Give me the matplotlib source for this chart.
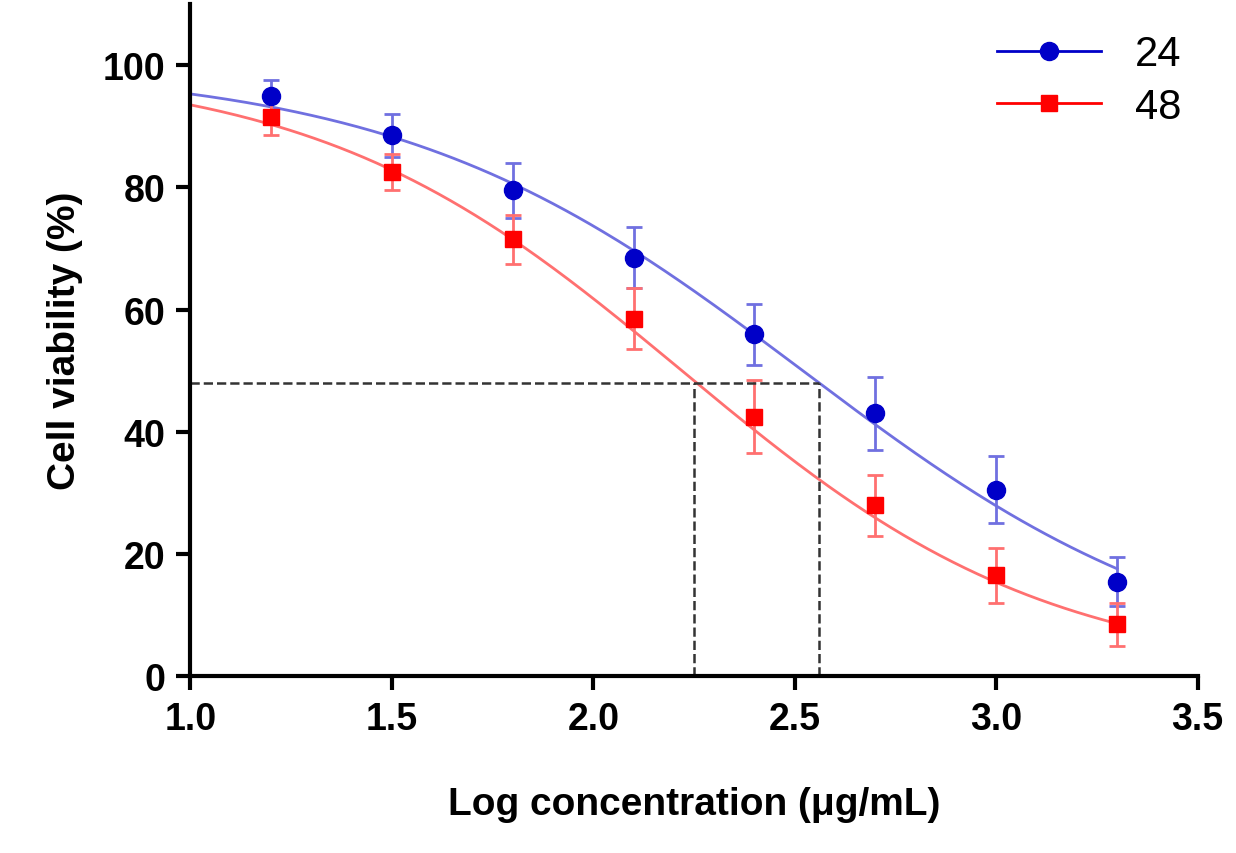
import numpy as np
import matplotlib
matplotlib.use("Agg")
import matplotlib.pyplot as plt

plt.rcParams['font.family'] = ['Liberation Sans', 'DejaVu Sans']

x = [1.2, 1.5, 1.8, 2.1, 2.4, 2.7, 3.0, 3.3]
y24 = [95, 88.5, 79.5, 68.5, 56, 43, 30.5, 15.5]
e24 = [2.5, 3.5, 4.5, 5, 5, 6, 5.5, 4]
y48 = [91.5, 82.5, 71.5, 58.5, 42.5, 28, 16.5, 8.5]
e48 = [3, 3, 4, 5, 6, 5, 4.5, 3.5]
# fitted 4PL parameters (top, bottom, logIC50, hill)
fit24 = [100, 0, 2.52, 0.86]
fit48 = [100, 0, 2.22, 0.95]
ic50 = [2.25, 2.56]
ic50_y = 48

def hill(xx, p):
    t, b, c, h = p
    return b + (t - b) / (1 + 10 ** ((xx - c) * h))

fig = plt.figure(figsize=(12.36, 8.54), dpi=100)
ax = fig.add_axes([0.154, 0.207, 0.815, 0.787])
xx = np.linspace(1.0, 3.3, 300)
blue, bl = '#0000c8', '#7070e0'
red, rl = '#ff0000', '#ff7070'
ax.plot(xx, hill(xx, fit24), color=bl, lw=2)
ax.plot(xx, hill(xx, fit48), color=rl, lw=2)
ax.errorbar(x, y24, yerr=e24, fmt='none', ecolor=bl, elinewidth=2, capsize=6, capthick=2)
ax.errorbar(x, y48, yerr=e48, fmt='none', ecolor=rl, elinewidth=2, capsize=6, capthick=2)
ax.plot(x, y24, 'o', color=blue, ms=13)
ax.plot(x, y48, 's', color=red, ms=12)
ax.plot([], [], '-o', color=blue, mfc=blue, ms=13, lw=2, label='24')
ax.plot([], [], '-s', color=red, ms=12, lw=2, label='48')
ax.plot([1.0, max(ic50)], [ic50_y, ic50_y], '--', color='#333333', lw=1.8)
for v in ic50:
    ax.plot([v, v], [0, ic50_y], '--', color='#333333', lw=1.8)
ax.set_xlim(1.0, 3.5)
ax.set_ylim(0, 110)
ax.set_xticks([1.0, 1.5, 2.0, 2.5, 3.0, 3.5])
ax.set_yticks([0, 20, 40, 60, 80, 100])
for s in ['top', 'right']:
    ax.spines[s].set_visible(False)
for s in ['left', 'bottom']:
    ax.spines[s].set_linewidth(3)
ax.tick_params(width=3, length=10, labelsize=27, pad=8)
for lab in ax.get_xticklabels() + ax.get_yticklabels():
    lab.set_fontweight('bold')
ax.set_xlabel('Log concentration (μg/mL)', fontsize=28, fontweight='bold', labelpad=35)
ax.set_ylabel('Cell viability (%)', fontsize=28, fontweight='bold', labelpad=14)
ax.legend(loc='upper right', frameon=False, fontsize=30, handlelength=2.5,
          bbox_to_anchor=(1.0, 0.98), borderaxespad=0, labelspacing=0.3)
fig.savefig('out.png', dpi=100)
